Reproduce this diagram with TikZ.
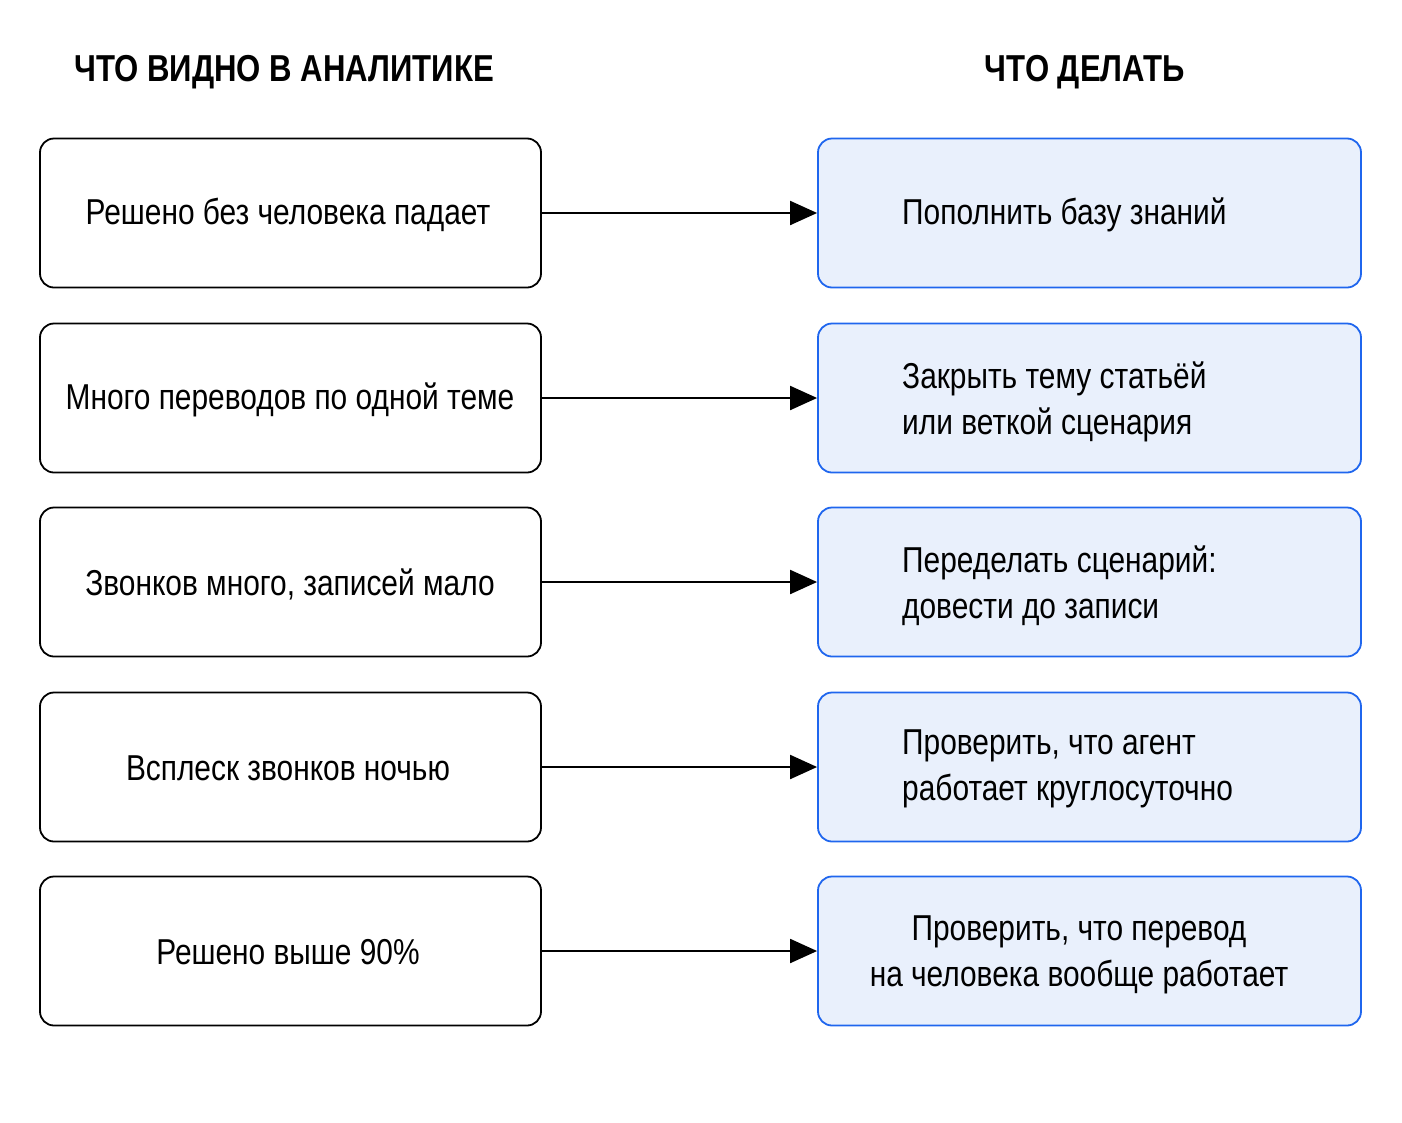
\documentclass[tikz,border=0pt]{standalone}
\usepackage{fontspec}
\setmainfont{Liberation Sans}[FakeStretch=0.83]
\usetikzlibrary{arrows.meta}
\definecolor{rblue}{HTML}{1F66EE}
\definecolor{rfill}{HTML}{E9F0FC}
\tikzset{
  x=1pt, y=-1pt,
  lbox/.style={draw=black, line width=1.8pt, rounded corners=14pt, fill=white,
    minimum width=501pt, minimum height=149pt, inner sep=0pt},
  rbox/.style={draw=rblue, line width=1.8pt, rounded corners=14pt, fill=rfill,
    minimum width=543pt, minimum height=149pt, inner sep=0pt},
  txt/.style={inner sep=0pt, font=\fontsize{36}{46}\selectfont},
  ltxt/.style={txt, align=center},
  rtxt/.style={txt, align=left, anchor=west},
  ctxt/.style={txt, align=center},
  hdr/.style={font=\bfseries\fontsize{37.5}{40}\selectfont, inner sep=0pt},
  conn/.style={line width=2pt, -{Triangle[length=27pt, width=24pt]}},
}
\begin{document}
\begin{tikzpicture}
\useasboundingbox (0,0) rectangle (1402,1122);
\node[hdr] (h1) at (284,72) {ЧТО ВИДНО В АНАЛИТИКЕ};
\node[hdr] (h2) at (1085,72) {ЧТО ДЕЛАТЬ};

\node[lbox] (l1) at (290.5,213) {};
\node[lbox] (l2) at (290.5,398) {};
\node[lbox] (l3) at (290.5,582) {};
\node[lbox] (l4) at (290.5,767) {};
\node[lbox] (l5) at (290.5,951) {};

\node[rbox] (r1) at (1089.5,213) {};
\node[rbox] (r2) at (1089.5,398) {};
\node[rbox] (r3) at (1089.5,582) {};
\node[rbox] (r4) at (1089.5,767) {};
\node[rbox] (r5) at (1089.5,951) {};

\node[ltxt] (lt1) at (288,215) {Решено без человека падает};
\node[ltxt] (lt2) at (290,400) {Много переводов по одной теме};
\node[ltxt] (lt3) at (290,584) {Звонков много, записей мало};
\node[ltxt] (lt4) at (288,768) {Всплеск звонков ночью};
\node[ltxt] (lt5) at (288,952) {Решено выше 90\%};

\node[rtxt] (rt1) at (902,215) {Пополнить базу знаний};
\node[rtxt] (rt2) at (902,402) {Закрыть тему статьёй\\или веткой сценария};
\node[rtxt] (rt3) at (902,586) {Переделать сценарий:\\довести до записи};
\node[rtxt] (rt4) at (902,769) {Проверить, что агент\\работает круглосуточно};
\node[ctxt] (rt5) at (1079,955) {Проверить, что перевод\\на человека вообще работает};

\foreach \i in {1,...,5} {\draw[conn] (l\i.east) -- (r\i.west);}
\end{tikzpicture}
\end{document}
